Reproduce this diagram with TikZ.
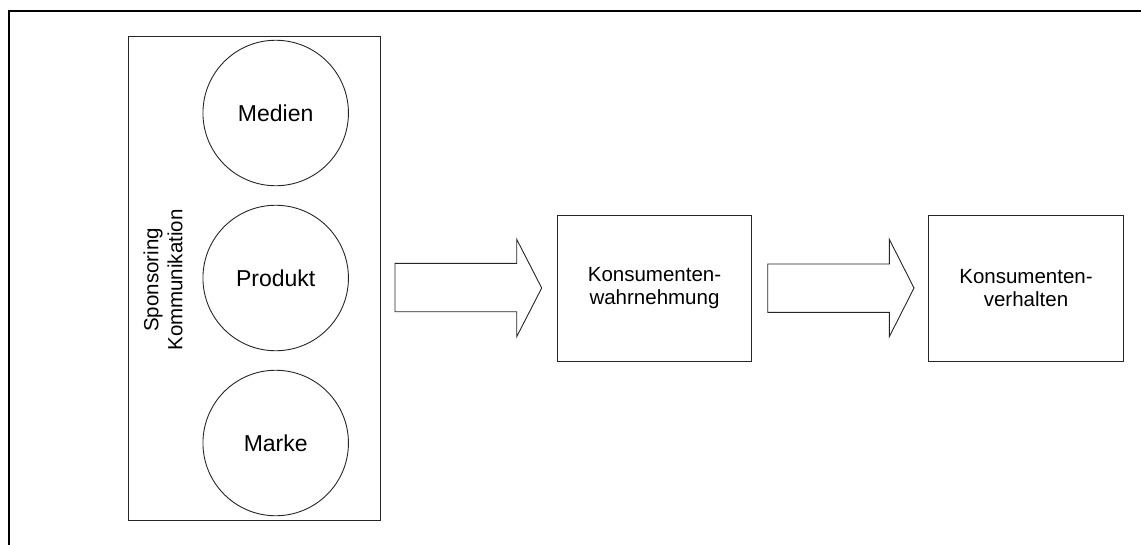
\documentclass[tikz,border=0pt]{standalone}
\usepackage{fontspec}
\setmainfont{Liberation Sans}
\begin{document}
\begin{tikzpicture}[x=1pt,y=-1pt,
  thin line/.style={draw=black!85,line width=0.9pt},
  circ/.style={thin line,circle,minimum size=145.5pt,inner sep=0pt,font=\fontsize{23}{26}\selectfont},
  stage/.style={thin line,rectangle,minimum width=194.5pt,minimum height=146pt,inner sep=0pt,align=center,font=\fontsize{20.5}{23.5}\selectfont},
  blockarrow/.style={thin line,fill=white,line join=miter}]
\useasboundingbox (0,0) rectangle (1141,544);
% outer frame (only top and left edges visible)
\draw[line width=2pt] (1142,10.5) -- (9,10.5) -- (9,545);
% left panel with the three circles
\node[thin line,rectangle,minimum width=252pt,minimum height=484pt,inner sep=0pt] (panel) at (254,278) {};
\node[circ] (medien) at (275.7,113) {Medien};
\node[circ] (produkt) at (275.7,278) {Produkt};
\node[circ] (marke) at (275.7,443) {Marke};
\node[rotate=90,align=center,font=\fontsize{20.5}{24}\selectfont] (label) at (163,280) {Sponsoring\\Kommunikation};
% stage boxes
\node[stage] (wahr) at (654.5,288) {Konsumenten-\\wahrnehmung};
\node[stage] (verh) at (1026,288) {Konsumenten-\\verhalten};
% block arrows
\draw[blockarrow] (395,263.3) -- (516.7,263.3) -- (516.7,239.3) -- (541.7,288) -- (516.7,336.7) -- (516.7,311.7) -- (395,311.7) -- cycle;
\draw[blockarrow] (767.7,264) -- (889.3,264) -- (889.3,239.3) -- (914,288) -- (889.3,336.7) -- (889.3,312.3) -- (767.7,312.3) -- cycle;
\end{tikzpicture}
\end{document}
